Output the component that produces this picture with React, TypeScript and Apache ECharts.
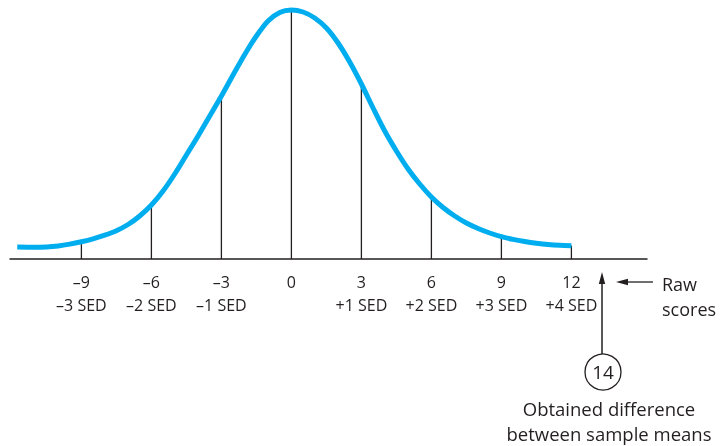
import { useEffect, useRef } from 'react';
import * as echarts from 'echarts';

// Curve: x in raw-score units, y = height above the axis line
const curveX = [-11.75, -11, -10.5, -10, -9.5, -9, -8.5, -8, -7.5, -7, -6.5, -6, -5.5, -5, -4.5, -4, -3.5, -3, -2.5, -2, -1.5, -1, -0.5, 0,
  0.5, 1, 1.5, 2, 2.5, 3, 3.5, 4, 4.5, 5, 5.5, 6, 6.5, 7, 7.5, 8, 8.5, 9, 9.5, 10, 10.5, 11, 11.5, 12];
const curveY = [11.9, 11.7, 12.1, 13.1, 14.9, 17.3, 20.2, 23.8, 28.3, 34.5, 43, 54, 68, 85, 104, 123, 143, 163, 184, 204.5, 223, 238, 246.5, 249,
  247, 241, 231, 216, 197, 175, 151, 128, 108, 90, 75, 62, 51.5, 43, 36, 30.5, 26, 22.3, 19.6, 17.5, 15.8, 14.5, 13.7, 13.3];

const tickValues = [-9, -6, -3, 0, 3, 6, 9, 12];
const rawLabels = ['\u20139', '\u20136', '\u20133', '0', '3', '6', '9', '12'];
const sedLabels = ['\u20133 SED', '\u20132 SED', '\u20131 SED', '', '+1 SED', '+2 SED', '+3 SED', '+4 SED'];

const obtainedDifference = '14';
const axisNote = ['Raw', 'scores'];
const calloutLines = ['Obtained difference', 'between sample means'];

const INK = '#231f20';
const FONT = "'Open Sans', 'Noto Sans', sans-serif";

export default function App() {
  const ref = useRef<HTMLDivElement>(null);
  useEffect(() => {
    const chart = echarts.init(ref.current as HTMLDivElement, null, { renderer: 'svg' });
    const curveData = curveX.map((x, i) => [x, curveY[i]]);
    const dropData = tickValues.map((v) => [v, curveY[curveX.indexOf(v)]]);

    chart.setOption({
      animation: false,
      grid: { left: 10, right: 76, top: 9, bottom: 187 },
      xAxis: {
        type: 'value',
        min: -12.06,
        max: 15.24,
        axisLine: { show: true, lineStyle: { color: INK, width: 1.5 } },
        axisTick: { show: false },
        splitLine: { show: false },
        axisLabel: {
          customValues: tickValues,
          margin: 11,
          color: INK,
          fontFamily: FONT,
          fontSize: 16,
          lineHeight: 23,
          formatter: (v: number) => {
            const i = tickValues.indexOf(Math.round(v));
            if (i < 0) return '';
            return sedLabels[i] ? rawLabels[i] + '\n' + sedLabels[i] : rawLabels[i];
          },
        },
      },
      yAxis: {
        type: 'value',
        min: 0,
        max: 250,
        show: false,
        splitLine: { show: false },
      },
      series: [
        {
          type: 'custom',
          z: 1,
          data: dropData,
          clip: false,
          renderItem: (params: any, api: any) => {
            const top = api.coord([api.value(0), api.value(1)]);
            const bottom = api.coord([api.value(0), 0]);
            return {
              type: 'line',
              shape: { x1: top[0], y1: top[1], x2: bottom[0], y2: bottom[1] },
              style: { stroke: INK, lineWidth: 1.3 },
            };
          },
        },
        {
          type: 'line',
          z: 3,
          data: curveData,
          smooth: 0.3,
          symbol: 'none',
          showSymbol: false,
          clip: false,
          lineStyle: { color: '#00aeef', width: 5 },
        },
      ],
      graphic: [
        { type: 'line', shape: { x1: 602, y1: 282, x2: 602, y2: 354 }, style: { stroke: INK, lineWidth: 1.5 } },
        { type: 'polygon', shape: { points: [[602, 272], [598.8, 284], [605.2, 284]] }, style: { fill: INK } },
        { type: 'line', shape: { x1: 626, y1: 282, x2: 653, y2: 282 }, style: { stroke: INK, lineWidth: 1.3 } },
        { type: 'polygon', shape: { points: [[616, 282], [628, 278.8], [628, 285.2]] }, style: { fill: INK } },
        { type: 'circle', shape: { cx: 603, cy: 372, r: 18 }, style: { fill: '#fff', stroke: INK, lineWidth: 1.3 } },
        { type: 'text', x: 603, y: 372, style: { text: obtainedDifference, fill: INK, fontSize: 19, fontFamily: FONT, align: 'center', verticalAlign: 'middle' } },
        { type: 'text', x: 662, y: 296, style: { text: axisNote.join('\n'), fill: INK, fontSize: 18, lineHeight: 25, fontFamily: FONT, align: 'left', verticalAlign: 'middle' } },
        { type: 'text', x: 609, y: 421, style: { text: calloutLines.join('\n'), fill: INK, fontSize: 18.5, lineHeight: 25.5, fontFamily: FONT, align: 'center', verticalAlign: 'middle' } },
      ],
    });
    return () => chart.dispose();
  }, []);
  return <div ref={ref} style={{ position: 'fixed', left: 0, top: 0, width: 723, height: 446 }} />;
}
